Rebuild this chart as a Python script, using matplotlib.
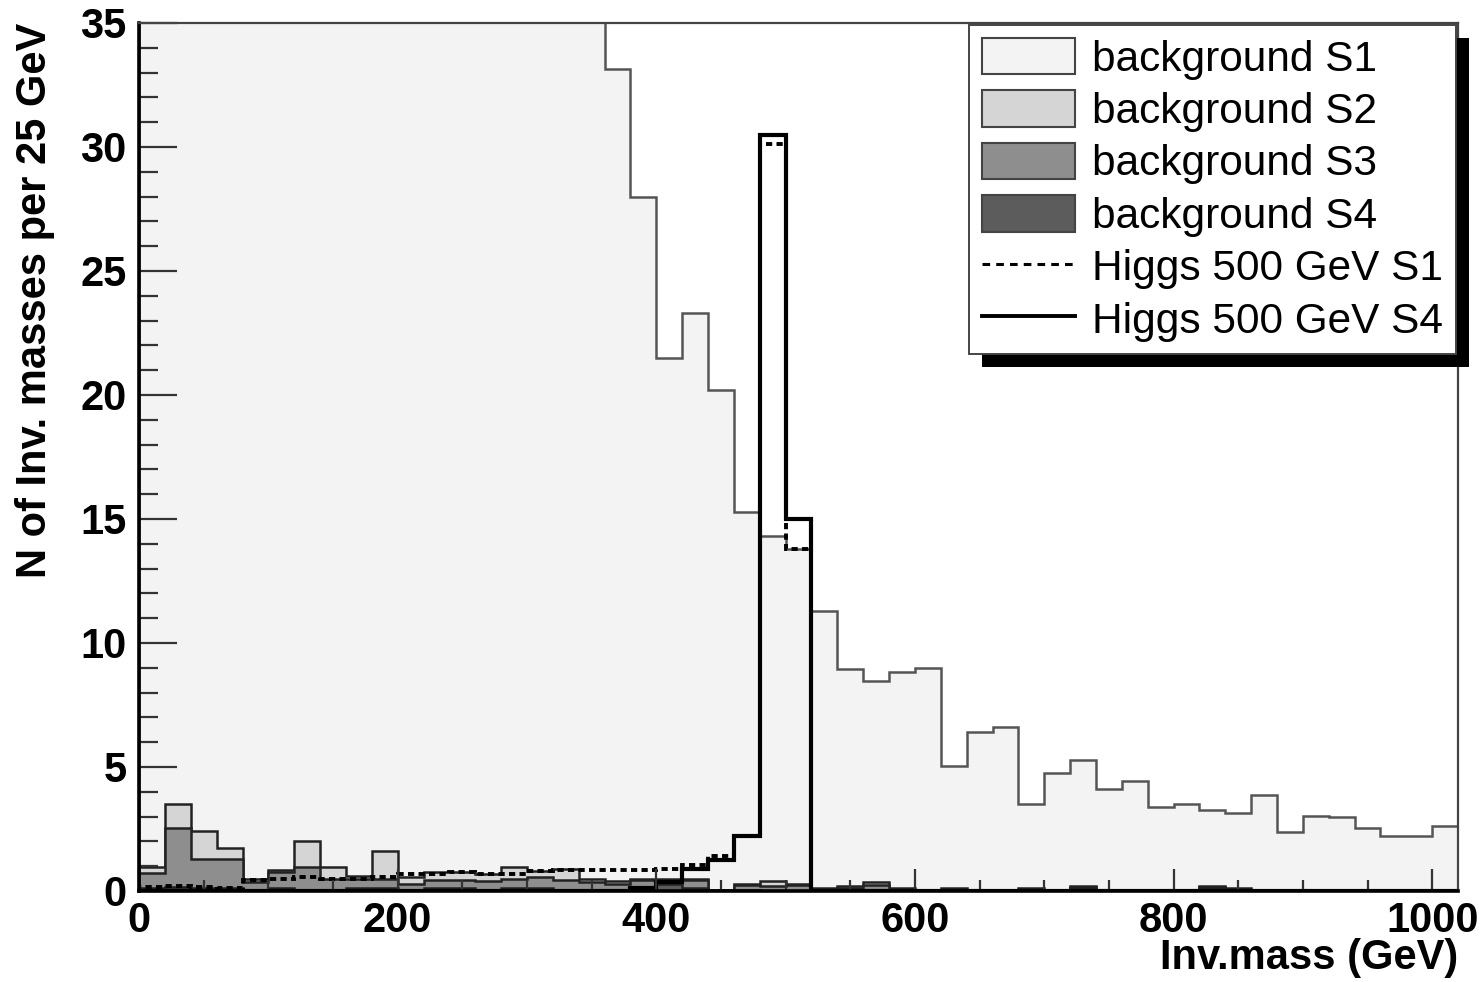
import numpy as np
import matplotlib.pyplot as plt
from matplotlib.patches import Patch, Rectangle
from matplotlib.lines import Line2D
from matplotlib.ticker import MultipleLocator

plt.rcParams['font.family'] = ['Liberation Sans', 'DejaVu Sans']

# 51 bins of 20 GeV, 0 - 1020 GeV
edges = np.arange(0, 1021, 20)

# backgrounds (per sample, not stacked). S1 below 360 GeV runs off the top of the plot
bg_s1 = [44, 58, 66, 70, 67, 64, 58, 55, 53, 50, 48, 46, 44, 42, 40, 38, 36.5, 35.5,
         32.75, 27.5, 21.0, 22.8, 20.15, 15.0, 13.9, 13.5,
         11.2, 8.74, 8.1, 8.71, 8.93, 4.94, 6.37, 6.55, 3.4, 4.69, 5.08, 4.07, 4.37,
         3.35, 3.45, 3.07, 3.06, 3.81, 2.34, 2.97, 2.92, 2.48, 2.17, 2.17, 2.55]
bg_s2 = [0.26, 0.95, 1.1, 0.45, 0.15, 0.1, 1.05, 0.45, 0.1, 1.1, 0.25, 0.3, 0.3, 0.3,
         0.45, 0.25, 0.45, 0.15, 0.1, 0.05, 0.05, 0.05, 0.0, 0.05, 0.2, 0.05,
         0.05, 0.1, 0.1, 0.05, 0.05, 0.05, 0.05, 0.0, 0.05, 0.05, 0.05, 0.05, 0.05,
         0.05, 0.05, 0.05, 0.05, 0.05, 0.05, 0.05, 0.05, 0.05, 0.05, 0.05, 0.05]
bg_s3 = [0.62, 2.4, 1.2, 1.2, 0.35, 0.65, 0.95, 0.5, 0.4, 0.4, 0.3, 0.35, 0.35, 0.4,
         0.4, 0.45, 0.45, 0.35, 0.3, 0.35, 0.15, 0.35, 0.05, 0.2, 0.2, 0.25,
         0.05, 0.1, 0.2, 0.05, 0.0, 0.05, 0.0, 0.05, 0.05, 0.0, 0.05, 0.0, 0.0,
         0.0, 0.0, 0.05, 0.05, 0.0, 0.0, 0.0, 0.0, 0.0, 0.0, 0.0, 0.0]
bg_s4 = [0.1, 0.15, 0.1, 0.1, 0.0, 0.1, 0.0, 0.0, 0.1, 0.1, 0.0, 0.1, 0.1, 0.0,
         0.1, 0.1, 0.0, 0.0, 0.0, 0.1, 0.3, 0.1, 0.0, 0.05, 0.0, 0.0,
         0.0, 0.0, 0.05, 0.0, 0.0, 0.0, 0.0, 0.0, 0.0, 0.0, 0.1, 0.0, 0.0,
         0.0, 0.0, 0.1, 0.0, 0.0, 0.0, 0.0, 0.0, 0.0, 0.0, 0.0, 0.0]

# Higgs 500 GeV signal
higgs_s1 = [0.15, 0.2, 0.15, 0.1, 0.45, 0.5, 0.55, 0.5, 0.5, 0.55, 0.7, 0.7, 0.75, 0.7,
            0.7, 0.8, 0.85, 0.85, 0.85, 0.85, 0.9, 1.05, 1.4, 2.2, 30.1, 13.8,
            0.0, 0.0, 0.0, 0.0, 0.0, 0.0, 0.0, 0.0, 0.0, 0.0, 0.0, 0.0, 0.0,
            0.0, 0.0, 0.0, 0.0, 0.0, 0.0, 0.0, 0.0, 0.0, 0.0, 0.0, 0.0]
higgs_s4 = [0.0, 0.0, 0.0, 0.0, 0.0, 0.0, 0.0, 0.0, 0.0, 0.0, 0.0, 0.0, 0.0, 0.0,
            0.0, 0.0, 0.0, 0.0, 0.0, 0.1, 0.35, 0.9, 1.25, 2.2, 30.5, 15.0,
            0.0, 0.0, 0.0, 0.0, 0.0, 0.0, 0.0, 0.0, 0.0, 0.0, 0.0, 0.0, 0.0,
            0.0, 0.0, 0.0, 0.0, 0.0, 0.0, 0.0, 0.0, 0.0, 0.0, 0.0, 0.0]

labels = ['background S1', 'background S2', 'background S3', 'background S4',
          'Higgs 500 GeV S1', 'Higgs 500 GeV S4']
fills = ['#f3f3f3', '#d5d5d5', '#8e8e8e', '#5c5c5c']

fig = plt.figure(figsize=(14.84, 9.82), dpi=100)
ax = fig.add_axes([0.0937, 0.0927, 0.8888, 0.8839])

# stack: S4 at the bottom, S1 on top; draw the tallest cumulative first
s4 = np.array(bg_s4)
s3 = s4 + np.array(bg_s3)
s2 = s3 + np.array(bg_s2)
s1 = s2 + np.array(bg_s1)
for vals, col, ec in [(s1, fills[0], '#555555'), (s2, fills[1], '#222222'),
                      (s3, fills[2], '#222222'), (s4, fills[3], '#222222')]:
    ax.stairs(vals, edges, fill=True, facecolor=col, edgecolor=ec, linewidth=1.8,
              baseline=0)

ax.stairs(higgs_s4, edges, color='black', linewidth=3.0, baseline=0)
ax.stairs(higgs_s1, edges, color='black', linewidth=2.8, linestyle=(0, (1.6, 1.1)),
          baseline=0)

ax.set_xlim(0, 1020)
ax.set_ylim(0, 35)

ax.xaxis.set_major_locator(MultipleLocator(200))
ax.xaxis.set_minor_locator(MultipleLocator(50))
ax.yaxis.set_major_locator(MultipleLocator(5))
ax.yaxis.set_minor_locator(MultipleLocator(1))
ax.tick_params(axis='y', which='major', direction='in', length=27, width=1.6, pad=9,
               labelsize=30, color='#333333')
ax.tick_params(axis='y', which='minor', direction='in', length=14, width=1.6, color='#333333')
ax.tick_params(axis='x', which='major', direction='in', length=16, width=1.6, pad=7,
               labelsize=30, color='#333333')
ax.tick_params(axis='x', which='minor', direction='in', length=8, width=1.6, color='#333333')
for t in ax.get_xticklabels() + ax.get_yticklabels():
    t.set_fontweight('bold')

for side in ['left', 'bottom']:
    ax.spines[side].set_linewidth(2.6)
for side in ['top', 'right']:
    ax.spines[side].set_linewidth(1.6)
    ax.spines[side].set_color('#444444')

ax.set_xlabel('Inv.mass (GeV)', fontsize=30, fontweight='bold', loc='right', labelpad=-2)
ax.set_ylabel('N of Inv. masses per 25 GeV', fontsize=30, fontweight='bold', loc='top',
              labelpad=18)

handles = [Patch(facecolor=c, edgecolor='#444444', linewidth=1.5) for c in fills]
handles.append(Line2D([], [], color='black', linewidth=2.2, linestyle=(0, (2.5, 2))))
handles.append(Line2D([], [], color='black', linewidth=2.8))
leg = ax.legend(handles, labels, loc='upper right', bbox_to_anchor=(1.0, 1.0),
                borderaxespad=0.05, fontsize=30.5, fancybox=False, framealpha=1,
                edgecolor='#444444', handlelength=2.2, handleheight=0.95,
                handletextpad=0.4, borderpad=0.3, labelspacing=0.25)
leg.get_frame().set_linewidth(1.4)
leg.set_zorder(5)

# ROOT style drop shadow behind the legend
fig.canvas.draw()
bb = leg.get_window_extent().transformed(ax.transAxes.inverted())
dx = 13 / ax.bbox.width
dy = 13 / ax.bbox.height
ax.add_patch(Rectangle((bb.x0 + dx, bb.y0 - dy), bb.width, bb.height,
                       transform=ax.transAxes, facecolor='black', edgecolor='none',
                       zorder=4.5, clip_on=False))
ax.set_xlim(0, 1020)
ax.set_ylim(0, 35)

fig.savefig('out.png', dpi=100)
